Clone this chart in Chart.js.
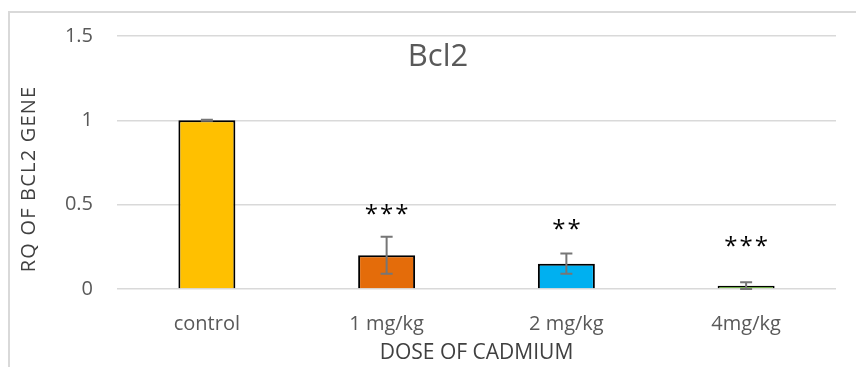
<!DOCTYPE html>
<html>
<head>
<meta charset="utf-8">
<script src="https://cdn.jsdelivr.net/npm/chart.js@4"></script>
<style>
  html, body { margin: 0; padding: 0; background: #ffffff; }
  #wrap { position: relative; width: 856px; height: 367px; overflow: hidden; }
  #frame { position: absolute; left: 8px; top: 11px; right: -4px; bottom: -4px;
           border-left: 2px solid #d9d9d9; border-top: 2px solid #d9d9d9; }
  canvas { position: absolute; left: 0; top: 0; }
</style>
</head>
<body>
<div id="wrap">
  <div id="frame"></div>
  <canvas id="chart" width="856" height="367"></canvas>
</div>
<script>
// ---- data ----
const doses = ['control', '1 mg/kg', '2 mg/kg', '4mg/kg'];
const rqValues = [1.0, 0.20, 0.15, 0.02];
const rqErrors = [0.003, 0.11, 0.06, 0.02];
const sigMarks = ['', '***', '**', '***'];
const sigLevels = [null, 0.47, 0.38, 0.28];
const barColors = ['#FFC000', '#E46C0A', '#00B0F0', '#70AD47'];
const yTicks = [0, 0.5, 1, 1.5];

const FONT = '"Open Sans", "Noto Sans", sans-serif';

// error bars + significance stars, placed through the scales
const errorBarPlugin = {
  id: 'errorBars',
  afterDatasetsDraw(chart) {
    const ctx = chart.ctx;
    const y = chart.scales.y;
    const meta = chart.getDatasetMeta(0);
    ctx.save();
    ctx.strokeStyle = '#767676';
    ctx.lineWidth = 2;
    meta.data.forEach((bar, i) => {
      const hi = y.getPixelForValue(rqValues[i] + rqErrors[i]);
      const lo = y.getPixelForValue(rqValues[i] - rqErrors[i]);
      const cx = bar.x;
      ctx.beginPath();
      ctx.moveTo(cx, hi); ctx.lineTo(cx, lo);
      ctx.moveTo(cx - 6, hi); ctx.lineTo(cx + 6, hi);
      ctx.moveTo(cx - 6, lo); ctx.lineTo(cx + 6, lo);
      ctx.stroke();
    });
    ctx.fillStyle = '#000000';
    ctx.font = '24px ' + FONT;
    ctx.textAlign = 'center';
    ctx.textBaseline = 'middle';
    ctx.letterSpacing = '2px';
    meta.data.forEach((bar, i) => {
      if (!sigMarks[i]) return;
      ctx.fillText(sigMarks[i], bar.x + 1, y.getPixelForValue(sigLevels[i]) + 5);
    });
    ctx.restore();
  }
};

// chart title and y-axis title as Excel places them
const titlesPlugin = {
  id: 'titles',
  afterDraw(chart) {
    const ctx = chart.ctx;
    ctx.save();
    ctx.fillStyle = '#595959';
    ctx.font = '31px ' + FONT;
    ctx.textAlign = 'center';
    ctx.textBaseline = 'middle';
    ctx.fillText('Bcl2', 438, 57);

    ctx.translate(29, 179);
    ctx.rotate(-Math.PI / 2);
    ctx.fillStyle = '#404040';
    ctx.font = '20px ' + FONT;
    ctx.letterSpacing = '1.2px';
    ctx.fillText('RQ OF BCL2 GENE', 0, 0);
    ctx.restore();
  }
};

new Chart(document.getElementById('chart').getContext('2d'), {
  type: 'bar',
  data: {
    labels: doses,
    datasets: [{
      data: rqValues,
      backgroundColor: barColors,
      borderColor: '#000000',
      borderWidth: 2,
      categoryPercentage: 1,
      barPercentage: 0.317
    }]
  },
  options: {
    responsive: false,
    animation: false,
    layout: { padding: { left: 65, right: 20, top: 33, bottom: 1 } },
    plugins: { legend: { display: false }, tooltip: { enabled: false } },
    scales: {
      x: {
        afterFit: axis => { axis.height = 77; },
        grid: { display: false },
        border: { display: false },
        ticks: { color: '#595959', font: { family: FONT, size: 20 }, padding: 15, maxRotation: 0 },
        title: {
          display: true, text: 'DOSE OF CADMIUM', color: '#404040',
          font: { family: FONT, size: 21 }, padding: { top: 9, bottom: 0 }
        }
      },
      y: {
        min: 0, max: 1.5,
        afterFit: axis => { axis.width = 52; },
        afterBuildTicks: axis => { axis.ticks = yTicks.map(v => ({ value: v })); },
        grid: { color: '#d9d9d9', lineWidth: 1.5, drawTicks: false },
        border: { display: false },
        ticks: {
          color: '#595959', font: { family: FONT, size: 20 }, padding: 24,
          callback: v => String(v)
        }
      }
    }
  },
  plugins: [errorBarPlugin, titlesPlugin]
});
</script>
</body>
</html>
